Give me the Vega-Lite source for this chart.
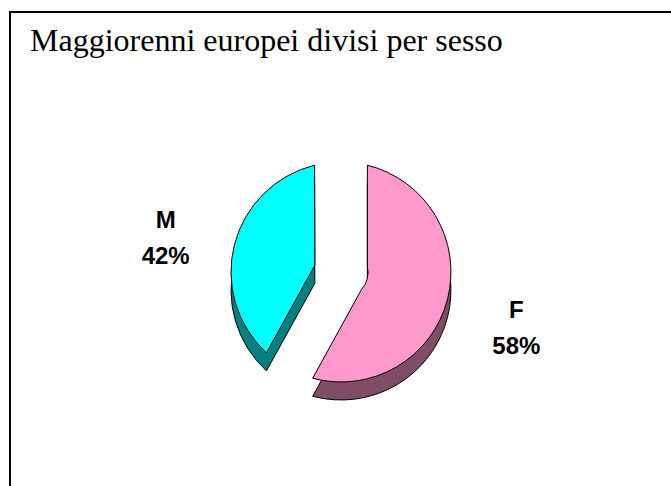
{
  "$schema": "https://vega.github.io/schema/vega-lite/v6.json",
  "width": 662,
  "height": 520,
  "autosize": "none",
  "padding": {"left": 10, "top": 12, "right": 0, "bottom": 0},
  "background": "white",
  "view": {"stroke": "black", "strokeWidth": 2, "fill": "white"},
  "config": {"view": {"stroke": "black", "strokeWidth": 2}},
  "title": {
    "text": "Maggiorenni europei divisi per sesso",
    "anchor": "start",
    "frame": "group",
    "orient": "top",
    "offset": -71,
    "dx": 20,
    "baseline": "alphabetic",
    "font": "Liberation Serif",
    "fontSize": 32,
    "fontWeight": "normal",
    "color": "black"
  },
  "data": {"values": [
    {"sesso": "F", "quota": 0.58},
    {"sesso": "M", "quota": 0.42}
  ]},
  "layer": [
    {
      "mark": {"type": "arc", "radius": 110, "innerRadius": 27, "padAngle": 0.47, "yOffset": 18, "stroke": "black", "strokeWidth": 1},
      "encoding": {
        "theta": {"field": "quota", "type": "quantitative", "stack": true},
        "color": {"field": "sesso", "type": "nominal", "scale": {"domain": ["F", "M"], "range": ["#804D66", "#008080"]}, "legend": null}
      }
    },
    {
      "mark": {"type": "arc", "radius": 110, "innerRadius": 27, "padAngle": 0.47, "stroke": "black", "strokeWidth": 1},
      "encoding": {
        "theta": {"field": "quota", "type": "quantitative", "stack": true},
        "color": {"field": "sesso", "type": "nominal", "scale": {"domain": ["F", "M"], "range": ["#FF99CC", "#00FFFF"]}, "legend": null}
      }
    },
    {
      "mark": {"type": "text", "radius": 181, "dy": -6, "font": "Liberation Sans", "fontSize": 24, "fontWeight": "bold"},
      "encoding": {
        "theta": {"field": "quota", "type": "quantitative", "stack": true},
        "color": {"field": "sesso", "type": "nominal", "scale": {"domain": ["F", "M"], "range": ["black", "black"]}, "legend": null},
        "text": {"field": "sesso", "type": "nominal"}
      }
    },
    {
      "mark": {"type": "text", "radius": 181, "dy": 30, "font": "Liberation Sans", "fontSize": 24, "fontWeight": "bold"},
      "encoding": {
        "theta": {"field": "quota", "type": "quantitative", "stack": true},
        "color": {"field": "sesso", "type": "nominal", "scale": {"domain": ["F", "M"], "range": ["black", "black"]}, "legend": null},
        "text": {"field": "quota", "type": "quantitative", "format": ".0%"}
      }
    }
  ],
  "resolve": {"scale": {"color": "independent"}}
}
